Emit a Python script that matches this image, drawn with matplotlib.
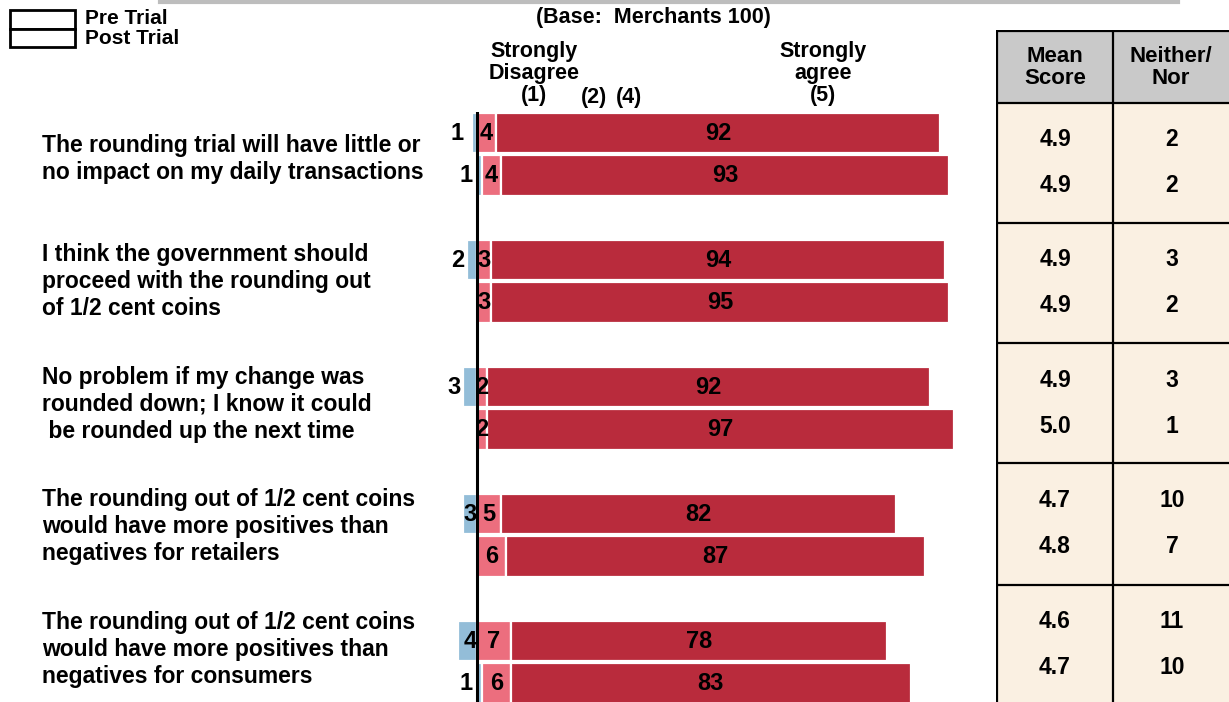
import matplotlib
matplotlib.use("Agg")
import matplotlib.pyplot as plt
from matplotlib.patches import Rectangle
from matplotlib.lines import Line2D

plt.rcParams['font.family'] = ['Liberation Sans', 'DejaVu Sans']
plt.rcParams['font.weight'] = 'bold'

# ---------------- data ----------------
questions = [
    ["The rounding trial will have little or", "no impact on my daily transactions"],
    ["I think the government should", "proceed with the rounding out", "of 1/2 cent coins"],
    ["No problem if my change was", "rounded down; I know it could", " be rounded up the next time"],
    ["The rounding out of 1/2 cent coins", "would have more positives than", "negatives for retailers"],
    ["The rounding out of 1/2 cent coins", "would have more positives than", "negatives for consumers"],
]
pre_disagree = [1, 2, 3, 3, 4]
post_disagree = [1, 0, 0, 0, 1]
pre_agree = [4, 3, 2, 5, 7]
post_agree = [4, 3, 2, 6, 6]
pre_strong = [92, 94, 92, 82, 78]
post_strong = [93, 95, 97, 87, 83]
mean_pre = ["4.9", "4.9", "4.9", "4.7", "4.6"]
mean_post = ["4.9", "4.9", "5.0", "4.8", "4.7"]
neither_pre = [2, 3, 3, 10, 11]
neither_post = [2, 2, 1, 7, 10]
legend_labels = ["Pre Trial", "Post Trial"]
table_headers = [["Mean", "Score"], ["Neither/", "Nor"]]

C_BLUE = "#93BDD8"
C_PINK = "#EC6E7E"
C_RED = "#B92B3C"
C_HEAD = "#C9C9C9"
C_CREAM = "#FAF0E2"

W, H = 1229, 702
fig = plt.figure(figsize=(W / 100, H / 100), dpi=100)
fig.patch.set_facecolor("white")


def fx(px):
    return px / W


def fy(py):
    return 1 - py / H


def ftext(x, y, s, size=15, ha="left", va="center", **kw):
    fig.text(fx(x), fy(y), s, fontsize=size, ha=ha, va=va, fontweight="bold", **kw)


# top shadow line
fig.add_artist(Line2D([fx(160), fx(1178)], [fy(1.5), fy(1.5)], color="#BDBDBD", lw=3))

# ---------------- bar axes ----------------
PX_PER_UNIT = 4.82
ZERO_PX = 477
XMIN, XMAX = -6, 105
ROW_PX = 42.33
TOP_PX = 112
x0 = ZERO_PX + XMIN * PX_PER_UNIT
x1 = ZERO_PX + XMAX * PX_PER_UNIT
ax = fig.add_axes([fx(x0), fy(702), fx(x1 - x0), (702 - TOP_PX) / H])
ax.set_xlim(XMIN, XMAX)
ax.set_ylim(-0.5 + (702 - TOP_PX) / ROW_PX, -0.5)
ax.axis("off")
ax.patch.set_alpha(0)

LBL = 17
EDGE = dict(edgecolor="white", linewidth=1.6)
n = len(questions)
for i in range(n):
    ypre = 3 * i
    ypost = 3 * i + 1
    # pre trial
    d, a, s = pre_disagree[i], pre_agree[i], pre_strong[i]
    ax.barh(ypre, d, left=-d, height=0.95, color=C_BLUE, **EDGE)
    ax.barh(ypre, a, left=0, height=0.95, color=C_PINK, **EDGE)
    ax.barh(ypre, s, left=a, height=0.95, color=C_RED, **EDGE)
    if d >= 3 and a > 2:
        ax.text(-0.1, ypre, str(d), ha="right", va="center", fontsize=LBL, fontweight="bold", zorder=6)
    else:
        ax.text(min(-d, -2.4) - 0.3, ypre, str(d), ha="right", va="center", fontsize=LBL, fontweight="bold")
    ax.text(a / 2, ypre, str(a), ha="center", va="center", fontsize=LBL, fontweight="bold", zorder=6)
    ax.text(a + s / 2, ypre, str(s), ha="center", va="center", fontsize=LBL, fontweight="bold")
    # post trial
    d, a, s = post_disagree[i], post_agree[i], post_strong[i]
    if d > 0:
        ax.barh(ypost, d, left=0, height=0.95, color=C_BLUE, **EDGE)
        ax.text(-1.0, ypost, str(d), ha="right", va="center", fontsize=LBL, fontweight="bold")
    ax.barh(ypost, a, left=d, height=0.95, color=C_PINK, **EDGE)
    ax.barh(ypost, s, left=d + a, height=0.95, color=C_RED, **EDGE)
    ax.text(d + a / 2, ypost, str(a), ha="center", va="center", fontsize=LBL, fontweight="bold", zorder=6)
    ax.text(d + a + s / 2, ypost, str(s), ha="center", va="center", fontsize=LBL, fontweight="bold")

ax.axvline(0, color="black", lw=2.2, zorder=5)

# ---------------- question labels ----------------
Q_SIZE = 16.5
for i, lines in enumerate(questions):
    yc = 159 + 122.6 * i
    nl = len(lines)
    for k, line in enumerate(lines):
        ftext(42, yc + (k - (nl - 1) / 2) * 27, line, size=Q_SIZE)

# ---------------- headers ----------------
HS = 15.5
ftext(653, 18, "(Base:  Merchants 100)", size=HS, ha="center")
ftext(534, 52, "Strongly", size=HS, ha="center")
ftext(534, 73, "Disagree", size=HS, ha="center")
ftext(534, 96, "(1)", size=HS, ha="center")
ftext(594, 97, "(2)", size=HS, ha="center")
ftext(629, 97, "(4)", size=HS, ha="center")
ftext(823, 52, "Strongly", size=HS, ha="center")
ftext(823, 73, "agree", size=HS, ha="center")
ftext(823, 95, "(5)", size=HS, ha="center")

# ---------------- legend ----------------
for k, lab in enumerate(legend_labels):
    top = 10 + 18.5 * k
    fig.add_artist(Rectangle((fx(10), fy(top + 18.5)), fx(65), 18.5 / H,
                             transform=fig.transFigure, facecolor="white",
                             edgecolor="black", lw=2))
    ftext(85, 18 + 21 * k, lab, size=15)

# ---------------- table ----------------
tax = fig.add_axes([fx(996), 0, fx(W - 996), fy(30)])
tax.set_xlim(996, W)
tax.set_ylim(702, 30)
tax.axis("off")
col_x = [997, 1113, 1229]
row_b = [103, 223, 343, 463, 585, 702]
tax.add_patch(Rectangle((997, 31), 232, 72, facecolor=C_HEAD, edgecolor="none"))
tax.add_patch(Rectangle((997, 103), 232, 600, facecolor=C_CREAM, edgecolor="none"))
for xv in col_x[:2]:
    tax.plot([xv, xv], [31, 702], color="black", lw=1.6)
for yv in [31] + row_b[:-1]:
    tax.plot([997, 1229], [yv, yv], color="black", lw=1.6)
for c, hdr in enumerate(table_headers):
    cx = (col_x[c] + col_x[c + 1]) / 2
    tax.text(cx, 56, hdr[0], ha="center", va="center", fontsize=16, fontweight="bold")
    tax.text(cx, 78, hdr[1], ha="center", va="center", fontsize=16, fontweight="bold")
TS = 16.5
for i in range(n):
    yp = 139 + 120.5 * i
    tax.text(1055, yp, mean_pre[i], ha="center", va="center", fontsize=TS, fontweight="bold")
    tax.text(1055, yp + 46, mean_post[i], ha="center", va="center", fontsize=TS, fontweight="bold")
    tax.text(1172, yp, str(neither_pre[i]), ha="center", va="center", fontsize=TS, fontweight="bold")
    tax.text(1172, yp + 46, str(neither_post[i]), ha="center", va="center", fontsize=TS, fontweight="bold")

fig.savefig("out.png", dpi=100)
